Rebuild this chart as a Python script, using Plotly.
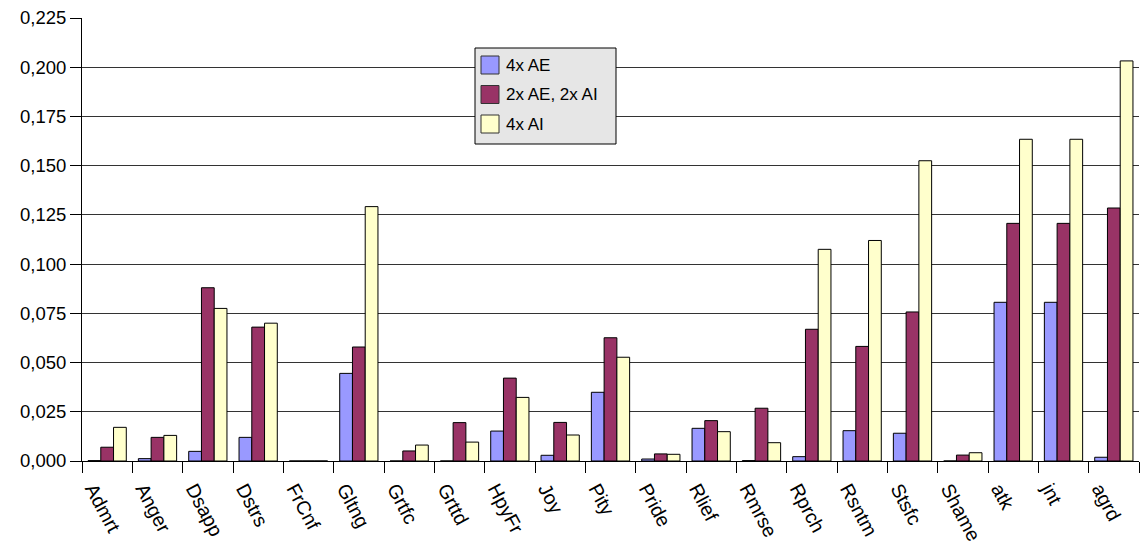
import plotly.graph_objects as go

categories = ["Admrt", "Anger", "Dsapp", "Dstrs", "FrCnf", "Gltng", "Grtfc", "Grttd",
              "HpyFr", "Joy", "Pity", "Pride", "Rlief", "Rmrse", "Rprch", "Rsntm",
              "Stsfc", "Shame", "atk", "jnt", "agrd"]

ae4 = [0.0002, 0.0012, 0.0049, 0.0120, 0.0, 0.0445, 0.0, 0.0, 0.0152, 0.0029, 0.0349,
       0.0010, 0.0166, 0.0002, 0.0022, 0.0154, 0.0141, 0.0, 0.0806, 0.0806, 0.0019]
ae2_ai2 = [0.0070, 0.0120, 0.0880, 0.0680, 0.0, 0.0579, 0.0051, 0.0195, 0.0421, 0.0196, 0.0626,
           0.0036, 0.0205, 0.0268, 0.0669, 0.0582, 0.0757, 0.0030, 0.1207, 0.1207, 0.1285]
ai4 = [0.0171, 0.0130, 0.0775, 0.0700, 0.0, 0.1292, 0.0081, 0.0096, 0.0323, 0.0132, 0.0527,
       0.0034, 0.0149, 0.0093, 0.1075, 0.1120, 0.1525, 0.0042, 0.1634, 0.1634, 0.2032]

series = [
    ("4x AE", ae4, "#9999FF"),
    ("2x AE, 2x AI", ae2_ai2, "#993366"),
    ("4x AI", ai4, "#FFFFCC"),
]

W, H = 1140, 545
ML, MR, MT, MB = 82, 1, 18, 84
PW, PH = W - ML - MR, H - MT - MB

font_family = "Liberation Sans, Arial, sans-serif"


def px_x(px):
    return (px - ML) / PW


def px_y(py):
    return (H - MB - py) / PH


fig = go.Figure()
for name, vals, color in series:
    fig.add_trace(go.Bar(
        x=categories, y=vals, name=name,
        marker=dict(color=color, line=dict(color="#000000", width=1)),
    ))

# Boxed legend in the upper middle of the plot
shapes = [dict(
    type="rect", xref="paper", yref="paper",
    x0=px_x(475), x1=px_x(616), y0=px_y(144), y1=px_y(48),
    fillcolor="#E6E6E6", line=dict(color="#000000", width=1), layer="above",
)]
annotations = []
row_top = 56
for i, (name, _, color) in enumerate(series):
    top = row_top + i * 29.5
    shapes.append(dict(
        type="rect", xref="paper", yref="paper",
        x0=px_x(481), x1=px_x(499), y0=px_y(top + 18), y1=px_y(top),
        fillcolor=color, line=dict(color="#333333", width=1), layer="above",
    ))
    annotations.append(dict(
        xref="paper", yref="paper", x=px_x(504), y=px_y(top + 9.5),
        xanchor="left", yanchor="middle", text=name, showarrow=False,
        font=dict(size=17, family=font_family, color="#000000"),
    ))

fig.update_layout(
    width=W, height=H,
    margin=dict(l=ML, r=MR, t=MT, b=MB),
    paper_bgcolor="white", plot_bgcolor="white",
    barmode="group", bargap=0.24, bargroupgap=0,
    separators=",.",
    font=dict(family=font_family, color="#000000", size=18),
    showlegend=False,
    shapes=shapes,
    annotations=annotations,
    xaxis=dict(
        type="category", tickson="boundaries",
        ticks="outside", ticklen=11, tickcolor="#000000",
        showline=True, linecolor="#000000", linewidth=1,
        tickangle=62, tickfont=dict(size=19.5),
        ticklabelstandoff=8, ticklabelshift=-14,
        showgrid=False,
    ),
    yaxis=dict(
        range=[0, 0.225], dtick=0.025, tick0=0, tickformat=".3f",
        ticks="outside", ticklen=11, tickcolor="#000000",
        showline=True, linecolor="#000000", linewidth=1,
        showgrid=True, gridcolor="#333333", gridwidth=1,
        tickfont=dict(size=18.5), zeroline=False,
    ),
)

fig.write_html("out.html")
